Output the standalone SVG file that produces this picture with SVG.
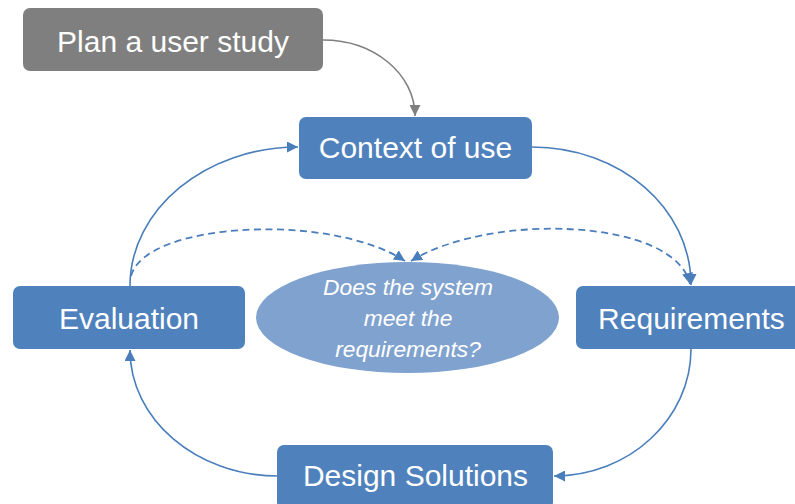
<svg xmlns="http://www.w3.org/2000/svg" width="795" height="504" viewBox="0 0 795 504">
  <style>
    .box { fill: #4F81BD; }
    .plan { fill: #7F7F7F; }
    .bubble { fill: #7FA2CF; }
    .label { font-family: "Liberation Sans", Arial, sans-serif; font-size: 30px; fill: #FFFFFF; text-anchor: middle; }
    .question { font-family: "Liberation Sans", Arial, sans-serif; font-size: 22.8px; font-style: italic; fill: #FFFFFF; text-anchor: middle; }
    .flow { fill: none; stroke: #4A7EBB; stroke-width: 1.6; }
    .flow-grey { fill: none; stroke: #7F7F7F; stroke-width: 1.6; }
    .dashed { stroke-dasharray: 7 4.5; stroke-width: 1.8; }
  </style>
  <defs>
    <marker id="arrow-blue" viewBox="0 0 10 10" markerUnits="userSpaceOnUse" markerWidth="11" markerHeight="11" refX="10" refY="5" orient="auto-start-reverse">
      <path d="M0,0 L10,5 L0,10 z" fill="#4A7EBB"/>
    </marker>
    <marker id="arrow-grey" viewBox="0 0 10 10" markerUnits="userSpaceOnUse" markerWidth="11" markerHeight="11" refX="10" refY="5" orient="auto">
      <path d="M0,0 L10,5 L0,10 z" fill="#7F7F7F"/>
    </marker>
  </defs>

  <rect width="795" height="504" fill="#FFFFFF"/>

  <g id="connectors">
    <path class="flow-grey" d="M323,40 C374,40 415,74 415,116" marker-end="url(#arrow-grey)"/>
    <path class="flow" d="M532,147 C620,147 691,208 691,285" marker-end="url(#arrow-blue)"/>
    <path class="flow" d="M691,349 C691,419 629,476 554,476" marker-end="url(#arrow-blue)"/>
    <path class="flow" d="M278,476 C196,476 130,419 130,350" marker-end="url(#arrow-blue)"/>
    <path class="flow" d="M130,286 C130,209 206,147 298,147" marker-end="url(#arrow-blue)"/>
    <path class="flow dashed" d="M131,276 C145,222 330,212 405,261" marker-end="url(#arrow-blue)"/>
    <path class="flow dashed" d="M411,261 C490,212 675,218 690,284" marker-start="url(#arrow-blue)" marker-end="url(#arrow-blue)"/>
  </g>

  <g id="plan-user-study">
    <rect class="plan" x="23" y="8" width="300" height="63" rx="7"/>
    <text class="label" x="173" y="52">Plan a user study</text>
  </g>

  <g id="context-of-use">
    <rect class="box" x="299" y="117" width="233" height="62" rx="7"/>
    <text class="label" x="415.5" y="158">Context of use</text>
  </g>

  <g id="evaluation">
    <rect class="box" x="13" y="286" width="232" height="63" rx="7"/>
    <text class="label" x="129" y="329">Evaluation</text>
  </g>

  <g id="requirements">
    <rect class="box" x="576" y="286" width="231" height="63" rx="7"/>
    <text class="label" x="691.5" y="329">Requirements</text>
  </g>

  <g id="design-solutions">
    <rect class="box" x="277" y="445" width="276" height="64" rx="7"/>
    <text class="label" x="415.5" y="486">Design Solutions</text>
  </g>

  <g id="question">
    <ellipse class="bubble" cx="407.5" cy="317.5" rx="151.5" ry="55.5"/>
    <text class="question" x="408" y="294.5">Does the system</text>
    <text class="question" x="408" y="326">meet the</text>
    <text class="question" x="408" y="357">requirements?</text>
  </g>
</svg>
